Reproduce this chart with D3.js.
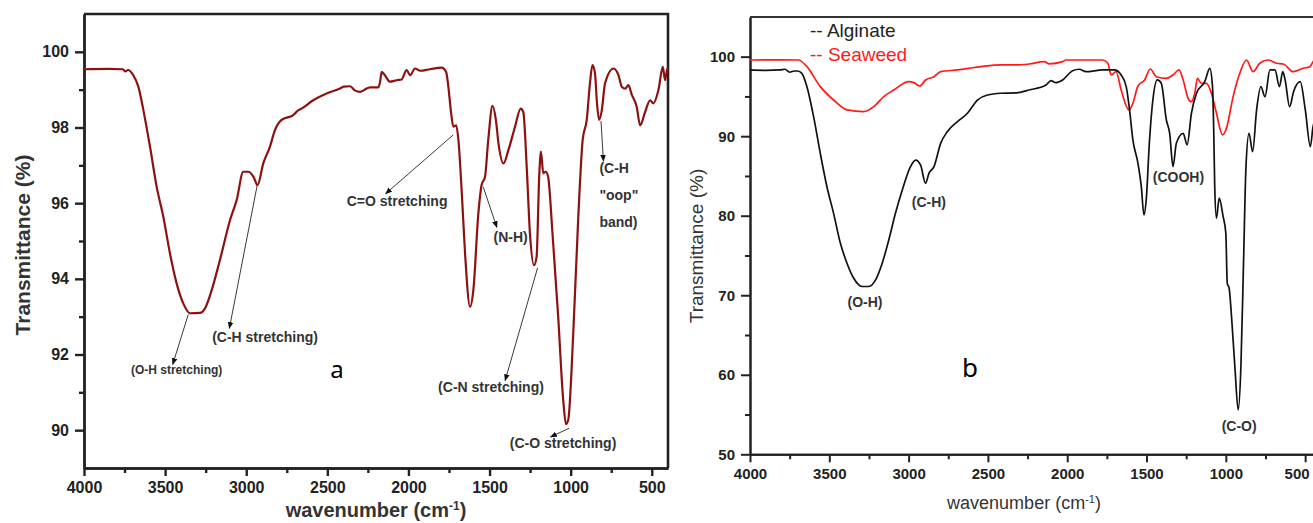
<!DOCTYPE html>
<html>
<head>
<meta charset="utf-8">
<script src="https://cdn.jsdelivr.net/npm/d3@7"></script>
<style>
  body { margin: 0; background: #fff; }
  svg { display: block; }
</style>
</head>
<body>
<div id="chart-area"></div>
<script>
// ---- data: panel a (FTIR spectrum, wavenumber cm-1 / transmittance %) ----
var waveA = [4000, 3850, 3760, 3745, 3729, 3696, 3665, 3634, 3593, 3552, 3511, 3470, 3429, 3388, 3347, 3285, 3254, 3213, 3162, 3100,
  3059, 3018, 2987, 2956, 2930, 2895, 2854, 2823, 2782, 2710, 2680, 2659, 2587, 2505, 2422, 2400, 2360, 2330, 2298, 2270,
  2237, 2186, 2175, 2165, 2145, 2114, 2073, 2042, 2011, 1990, 1959, 1928, 1867, 1795, 1768, 1754, 1739, 1723, 1706, 1692,
  1671, 1651, 1620, 1600, 1569, 1549, 1528, 1508, 1482, 1461, 1445, 1414, 1384, 1343, 1308, 1292, 1271, 1251, 1226, 1210,
  1194, 1183, 1169, 1153, 1139, 1112, 1077, 1046, 1029, 1015, 984, 953, 926, 901, 881, 866, 850, 839, 825, 808,
  788, 736, 705, 685, 664, 644, 623, 593, 572, 541, 510, 490, 459, 432, 418, 404, 400];
var transA = [99.54, 99.55, 99.54, 99.48, 99.52, 99.38, 99.08, 98.46, 97.49, 96.43, 95.64, 94.67, 93.88, 93.35, 93.09, 93.1, 93.22, 93.7, 94.5, 95.55,
  96.08, 96.83, 96.83, 96.7, 96.48, 97.05, 97.49, 97.93, 98.2, 98.33, 98.45, 98.5, 98.72, 98.9, 99.03, 99.08, 99.09, 98.98, 98.94, 99.0,
  99.06, 99.06, 99.2, 99.47, 99.38, 99.21, 99.25, 99.27, 99.52, 99.38, 99.56, 99.5, 99.54, 99.58, 99.47, 99.08, 98.46, 98.02, 98.06, 97.67,
  96.26, 94.67, 93.26, 93.7, 95.73, 96.48, 96.7, 97.67, 98.57, 98.2, 97.58, 97.05, 97.4, 98.02, 98.5, 98.41, 96.96, 95.2, 94.36, 94.58,
  96.7, 97.36, 96.79, 96.83, 96.7, 95.2, 93.0, 90.8, 90.16, 90.27, 92.56, 95.64, 97.67, 98.2, 99.17, 99.65, 99.43, 98.72, 98.2, 98.46,
  99.17, 99.56, 99.38, 99.08, 99.03, 99.12, 98.86, 98.55, 98.06, 98.41, 98.72, 98.64, 98.99, 99.6, 99.25, 99.56, 99.5];

// ---- data: panel b ----
var waveAlg = [4000, 3900, 3810, 3780, 3750, 3720, 3700, 3673, 3641, 3599, 3557, 3515, 3473, 3430, 3388, 3346, 3294, 3251, 3209, 3167,
  3125, 3083, 3040, 2988, 2956, 2925, 2893, 2872, 2840, 2798, 2756, 2692, 2629, 2566, 2503, 2419, 2324, 2240, 2134, 2102,
  2071, 2029, 1966, 1924, 1882, 1776, 1703, 1660, 1628, 1607, 1586, 1554, 1533, 1516, 1502, 1481, 1460, 1432, 1407, 1375,
  1354, 1333, 1312, 1269, 1244, 1217, 1185, 1133, 1101, 1084, 1076, 1070, 1059, 1042, 1017, 1000, 991, 979, 964, 943,
  922, 905, 889, 873, 854, 831, 806, 779, 753, 722, 690, 662, 641, 626, 598, 573, 531, 499, 467, 446, 420, 400];
var transAlg = [98.33, 98.28, 98.33, 98.42, 98.05, 98.2, 98.2, 97.9, 96.23, 92.45, 87.85, 83.65, 80.3, 76.53, 74.0, 72.13, 71.1, 71.1, 71.9, 74.0,
  76.95, 80.3, 83.24, 86.17, 87.0, 86.38, 84.08, 85.33, 86.17, 89.1, 90.57, 91.83, 92.88, 94.55, 95.18, 95.4, 95.45, 95.81, 96.44, 96.98,
  96.73, 97.07, 98.24, 98.42, 98.11, 98.33, 98.33, 97.7, 96.23, 93.3, 89.53, 86.59, 83.65, 80.09, 81.98, 89.53, 94.55, 97.07, 96.65, 92.04,
  90.36, 86.17, 89.1, 90.36, 88.9, 92.88, 95.4, 96.86, 98.54, 96.23, 90.36, 83.65, 79.68, 82.2, 79.88, 77.8, 71.5, 70.87, 67.3, 61.0,
  55.57, 61.0, 73.59, 86.17, 90.36, 88.05, 93.3, 96.23, 94.97, 98.33, 98.33, 96.23, 98.11, 97.07, 93.71, 95.6, 96.86, 93.3, 88.68, 91.62, 91.0, 91.5];

var waveSea = [4000, 3800, 3694, 3641, 3557, 3473, 3388, 3283, 3220, 3157, 3093, 2998, 2967, 2929, 2893, 2840, 2798, 2692, 2545, 2419,
  2324, 2240, 2145, 2113, 2029, 2008, 1945, 1776, 1744, 1723, 1692, 1660, 1611, 1586, 1554, 1512, 1476, 1438, 1375, 1333,
  1295, 1269, 1238, 1217, 1196, 1179, 1154, 1122, 1091, 1059, 1021, 996, 954, 912, 870, 828, 786, 733, 680, 638,
  575, 512, 470, 440, 400];
var transSea = [99.58, 99.6, 99.58, 98.74, 96.23, 94.55, 93.3, 93.08, 93.71, 94.97, 95.81, 96.86, 96.73, 96.31, 97.07, 97.48, 98.11, 98.33, 98.74, 98.96,
  98.96, 99.08, 99.37, 99.1, 99.37, 99.58, 99.58, 99.58, 99.17, 97.7, 98.11, 95.81, 93.3, 94.14, 96.31, 97.07, 98.45, 97.48, 97.28, 97.7,
  98.33, 97.07, 94.77, 94.34, 95.4, 97.28, 96.65, 96.65, 95.4, 92.88, 90.15, 90.99, 94.97, 97.91, 99.58, 98.11, 99.17, 99.58, 99.17, 99.08,
  98.11, 98.54, 98.74, 99.58, 99.6];

// tick values
var xTicks = [4000, 3500, 3000, 2500, 2000, 1500, 1000, 500];
var xMinor = [3750, 3250, 2750, 2250, 1750, 1250, 750];
var yTicksA = [90, 92, 94, 96, 98, 100];
var yMinorA = [91, 93, 95, 97, 99];
var yTicksB = [50, 60, 70, 80, 90, 100];
var yMinorB = [55, 65, 75, 85, 95];

// annotations (wavenumber, transmittance)
var labelsA = [
  { text: "(O-H stretching)", w: 3429, t: 91.59, size: 12 },
  { text: "(C-H stretching)", w: 2884, t: 92.46, size: 14 },
  { text: "C=O stretching", w: 2070, t: 96.06, size: 14 },
  { text: "(N-H)", w: 1370, t: 95.1, size: 14 },
  { text: "(C-N stretching)", w: 1491, t: 91.13, size: 14 },
  { text: "(C-O stretching)", w: 1047, t: 89.65, size: 14 }
];
var arrowsA = [
  { w1: 3357, t1: 93.06, w2: 3453, t2: 91.74 },
  { w1: 2932, t1: 96.48, w2: 3104, t2: 92.69 },
  { w1: 1725, t1: 97.8, w2: 2141, t2: 96.25 },
  { w1: 1539, t1: 96.43, w2: 1455, t2: 95.36 },
  { w1: 1204, t1: 94.29, w2: 1404, t2: 91.31 },
  { w1: 1010, t1: 90.05, w2: 1124, t2: 89.82 },
  { w1: 813, t1: 98.17, w2: 798, t2: 97.11 }
];
var oopLines = ["(C-H", "\"oop\"", "band)"];
var oopT = [96.92, 96.21, 95.51];

var labelsB = [
  { text: "(O-H)", w: 3275, t: 69.19 },
  { text: "(C-H)", w: 2872, t: 81.77 },
  { text: "(COOH)", w: 1299, t: 84.91 },
  { text: "(C-O)", w: 916, t: 53.6 }
];

var svg = d3.select("#chart-area").append("svg")
    .attr("width", 1313)
    .attr("height", 523);

var defs = svg.append("defs");
defs.append("marker")
    .attr("id", "arrow")
    .attr("viewBox", "0 0 10 10")
    .attr("refX", 9).attr("refY", 5)
    .attr("markerWidth", 7).attr("markerHeight", 7)
    .attr("markerUnits", "userSpaceOnUse")
    .attr("orient", "auto")
  .append("path")
    .attr("d", "M0,1 L10,5 L0,9 z")
    .attr("fill", "#111");

function addAxes(g, x, y, yTicks, yMinor, fontSize, strokeW) {
    var h = y.range()[0];
    g.append("g").attr("class", "axis axis--x").attr("transform", "translate(0," + h + ")")
        .call(d3.axisBottom(x).tickValues(xTicks).tickFormat(d3.format("d"))
            .tickSize(8).tickPadding(6).tickSizeOuter(0));
    g.append("g").attr("transform", "translate(0," + h + ")")
        .call(d3.axisBottom(x).tickValues(xMinor).tickSize(5).tickFormat("").tickSizeOuter(0));
    g.append("g").attr("transform", "translate(" + x.range()[0] + ",0)")
        .call(d3.axisLeft(y).tickValues(yTicks).tickFormat(d3.format("d"))
            .tickSize(9).tickPadding(6).tickSizeOuter(0));
    g.append("g").attr("transform", "translate(" + x.range()[0] + ",0)")
        .call(d3.axisLeft(y).tickValues(yMinor).tickSize(5).tickFormat("").tickSizeOuter(0));
    g.selectAll(".domain, .tick line").attr("stroke", "#222").attr("stroke-width", strokeW);
    g.selectAll(".tick text")
        .attr("font-family", "Liberation Sans, Arial, sans-serif")
        .attr("font-weight", "bold")
        .attr("font-size", fontSize)
        .attr("fill", "#222");
}

// ================= panel a =================
var xA = d3.scaleLinear().domain([4000, 400]).range([84, 668]);
var yA = d3.scaleLinear().domain([89, 101]).range([468, 14]);
var gA = svg.append("g");

addAxes(gA, xA, yA, yTicksA, yMinorA, 16, 2.4);
// top and right frame
gA.append("path")
    .attr("d", "M" + xA(4000) + "," + yA(101) + "H" + xA(400) + "V" + yA(89))
    .attr("fill", "none").attr("stroke", "#222").attr("stroke-width", 2.6);

var lineA = d3.line()
    .x(function(d) { return xA(d[0]); })
    .y(function(d) { return yA(d[1]); })
    .curve(d3.curveMonotoneX);

gA.append("path")
    .datum(d3.zip(waveA, transA))
    .attr("d", lineA)
    .attr("fill", "none")
    .attr("stroke", "#8e1111")
    .attr("stroke-width", 2.2);

gA.selectAll(".arrow")
    .data(arrowsA)
    .enter().append("line")
      .attr("x1", function(d) { return xA(d.w1); })
      .attr("y1", function(d) { return yA(d.t1); })
      .attr("x2", function(d) { return xA(d.w2); })
      .attr("y2", function(d) { return yA(d.t2); })
      .attr("stroke", "#222")
      .attr("stroke-width", 0.9)
      .attr("marker-end", "url(#arrow)");

gA.selectAll(".lbl")
    .data(labelsA)
    .enter().append("text")
      .attr("x", function(d) { return xA(d.w); })
      .attr("y", function(d) { return yA(d.t); })
      .attr("text-anchor", "middle")
      .attr("dominant-baseline", "central")
      .attr("font-family", "Liberation Sans, Arial, sans-serif")
      .attr("font-weight", "bold")
      .attr("font-size", function(d) { return d.size; })
      .attr("fill", "#333")
      .text(function(d) { return d.text; });

oopLines.forEach(function(s, i) {
    gA.append("text")
        .attr("x", xA(823))
        .attr("y", yA(oopT[i]))
        .attr("dominant-baseline", "central")
        .attr("font-family", "Liberation Sans, Arial, sans-serif")
        .attr("font-weight", "bold")
        .attr("font-size", 14)
        .attr("fill", "#333")
        .text(s);
});

gA.append("text")
    .attr("x", xA(2440)).attr("y", yA(91.64))
    .attr("text-anchor", "middle")
    .attr("dominant-baseline", "central")
    .attr("font-family", "Noto Sans, sans-serif")
    .attr("font-size", 24)
    .text("a");

gA.append("text")
    .attr("transform", "translate(30,245) rotate(-90)")
    .attr("text-anchor", "middle")
    .attr("font-family", "Liberation Sans, Arial, sans-serif")
    .attr("font-weight", "bold")
    .attr("font-size", 21)
    .attr("fill", "#333")
    .text("Transmittance (%)");

// the reference crops this label at the bottom edge; kept just inside here
var xlabA = gA.append("text")
    .attr("x", 376).attr("y", 517)
    .attr("text-anchor", "middle")
    .attr("font-family", "Liberation Sans, Arial, sans-serif")
    .attr("font-weight", "bold")
    .attr("font-size", 20)
    .attr("fill", "#333");
xlabA.append("tspan").text("wavenumber (cm");
xlabA.append("tspan").attr("baseline-shift", "super").attr("font-size", 12).text("-1");
xlabA.append("tspan").text(")");

// ================= panel b =================
var xB = d3.scaleLinear().domain([4000, 400]).range([750, 1321]);
var yB = d3.scaleLinear().domain([50, 105]).range([454.3, 16.9]);
var gB = svg.append("g");

addAxes(gB, xB, yB, yTicksB, yMinorB, 15, 2);
gB.append("path")
    .attr("d", "M" + xB(4000) + "," + yB(105) + "H" + xB(400))
    .attr("fill", "none").attr("stroke", "#333").attr("stroke-width", 2);

// last tick label sits at the picture edge: nudge it inside
gB.select(".axis--x").selectAll(".tick text")
    .filter(function(d) { return d === 500; })
    .attr("text-anchor", "end")
    .attr("dx", 4);

var lineB = d3.line()
    .x(function(d) { return xB(d[0]); })
    .y(function(d) { return yB(d[1]); })
    .curve(d3.curveMonotoneX);

gB.append("path")
    .datum(d3.zip(waveSea, transSea))
    .attr("d", lineB)
    .attr("fill", "none")
    .attr("stroke", "#ff1a1a")
    .attr("stroke-width", 1.7);

gB.append("path")
    .datum(d3.zip(waveAlg, transAlg))
    .attr("d", lineB)
    .attr("fill", "none")
    .attr("stroke", "#111")
    .attr("stroke-width", 1.7);

gB.selectAll(".lbl")
    .data(labelsB)
    .enter().append("text")
      .attr("x", function(d) { return xB(d.w); })
      .attr("y", function(d) { return yB(d.t); })
      .attr("text-anchor", "middle")
      .attr("dominant-baseline", "central")
      .attr("font-family", "Liberation Sans, Arial, sans-serif")
      .attr("font-weight", "bold")
      .attr("font-size", 14)
      .attr("fill", "#333")
      .text(function(d) { return d.text; });

// legend
var legendItems = [{ name: "Alginate", color: "#222" }, { name: "Seaweed", color: "#ff1a1a" }];
legendItems.forEach(function(d, i) {
    gB.append("text")
        .attr("x", 810)
        .attr("y", 30 + i * 24)
        .attr("dominant-baseline", "central")
        .attr("font-family", "Liberation Sans, Arial, sans-serif")
        .attr("font-size", 19)
        .attr("fill", d.color)
        .text("-- " + d.name);
});

gB.append("text")
    .attr("x", xB(2613)).attr("y", yB(61))
    .attr("text-anchor", "middle")
    .attr("dominant-baseline", "central")
    .attr("font-family", "Noto Sans, sans-serif")
    .attr("font-size", 26)
    .text("b");

gB.append("text")
    .attr("transform", "translate(703,246) rotate(-90)")
    .attr("text-anchor", "middle")
    .attr("font-family", "Liberation Sans, Arial, sans-serif")
    .attr("font-size", 19)
    .attr("fill", "#333")
    .text("Transmittance (%)");

var xlabB = gB.append("text")
    .attr("x", 1024).attr("y", 509)
    .attr("text-anchor", "middle")
    .attr("font-family", "Liberation Sans, Arial, sans-serif")
    .attr("font-size", 18)
    .attr("fill", "#333");
xlabB.append("tspan").text("wavenumber (cm");
xlabB.append("tspan").attr("baseline-shift", "super").attr("font-size", 11).text("-1");
xlabB.append("tspan").text(")");
</script>
</body>
</html>
